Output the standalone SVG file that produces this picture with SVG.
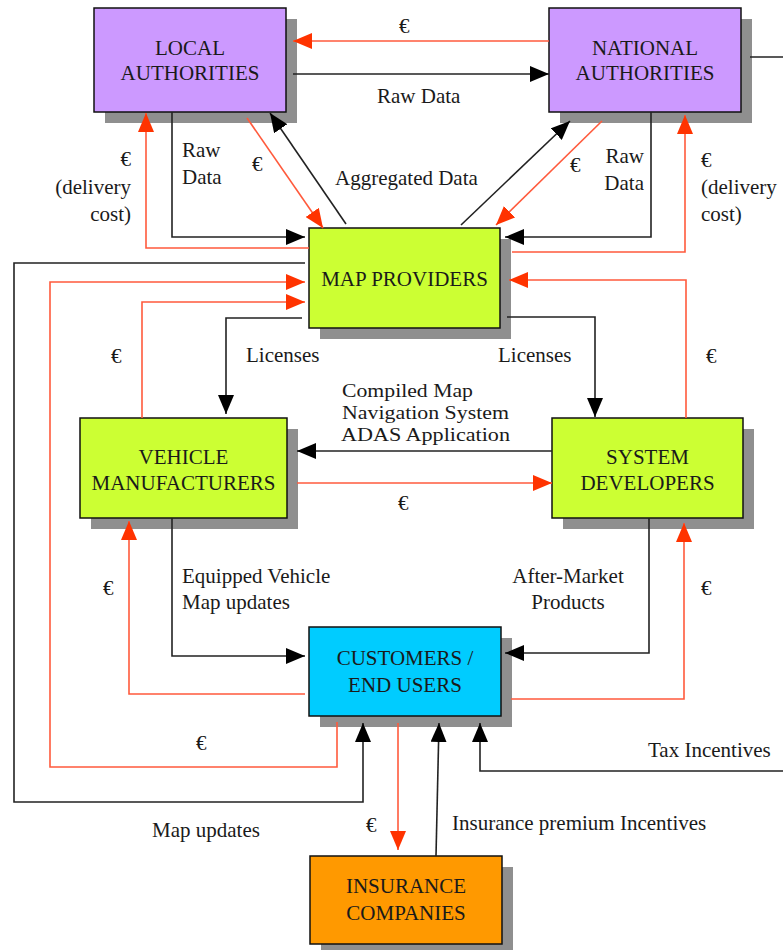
<svg xmlns="http://www.w3.org/2000/svg" width="783" height="950" viewBox="0 0 783 950">
<defs>
<style>
text{font-family:"Liberation Serif","Times New Roman",serif;font-size:21px;fill:#1a1a1a}
.c{text-anchor:middle}
.r{text-anchor:end}
.sm{font-size:19px}
.box{stroke:#111;stroke-width:1.5}
.sh{fill:#8f8f8f}
.k{fill:none;stroke:#222;stroke-width:1.6;marker-end:url(#ak)}
.kn{fill:none;stroke:#222;stroke-width:1.6}
.rd{fill:none;stroke:#ff5a3c;stroke-width:1.6;marker-end:url(#ar)}
</style>
<marker id="ak" markerUnits="userSpaceOnUse" markerWidth="20" markerHeight="16" refX="19" refY="8" orient="auto"><path d="M0,0 L19,8 L0,16 z" fill="#000"/></marker>
<marker id="ar" markerUnits="userSpaceOnUse" markerWidth="20" markerHeight="16" refX="19" refY="8" orient="auto"><path d="M0,0 L19,8 L0,16 z" fill="#ff3300"/></marker>
</defs>
<rect width="783" height="950" fill="#fff"/>

<g id="local-authorities">
<rect class="sh" x="105" y="19" width="192" height="104"/>
<rect class="box" x="94" y="8" width="192" height="104" fill="#cc99ff"/>
<text class="c" x="190" y="55">LOCAL</text>
<text class="c" x="190" y="80">AUTHORITIES</text>
</g>
<g id="national-authorities">
<rect class="sh" x="560" y="19" width="192" height="104"/>
<rect class="box" x="549" y="8" width="192" height="104" fill="#cc99ff"/>
<text class="c" x="645" y="55">NATIONAL</text>
<text class="c" x="645" y="80">AUTHORITIES</text>
</g>
<g id="map-providers">
<rect class="sh" x="320" y="239" width="191" height="100"/>
<rect class="box" x="309" y="228" width="191" height="100" fill="#ccff33"/>
<text class="c" x="404.5" y="286">MAP PROVIDERS</text>
</g>
<g id="vehicle-manufacturers">
<rect class="sh" x="91" y="429" width="207" height="100"/>
<rect class="box" x="80" y="418" width="207" height="100" fill="#ccff33"/>
<text class="c" x="183.5" y="464">VEHICLE</text>
<text class="c" x="183.5" y="490">MANUFACTURERS</text>
</g>
<g id="system-developers">
<rect class="sh" x="563" y="429" width="191" height="100"/>
<rect class="box" x="552" y="418" width="191" height="100" fill="#ccff33"/>
<text class="c" x="647.5" y="464">SYSTEM</text>
<text class="c" x="647.5" y="490">DEVELOPERS</text>
</g>
<g id="customers">
<rect class="sh" x="320" y="638" width="192" height="89"/>
<rect class="box" x="309" y="627" width="192" height="89" fill="#00ccff"/>
<text class="c" x="405" y="665">CUSTOMERS /</text>
<text class="c" x="405" y="692">END USERS</text>
</g>
<g id="insurance-companies">
<rect class="sh" x="321" y="867" width="192" height="88"/>
<rect class="box" x="310" y="856" width="192" height="88" fill="#ff9900"/>
<text class="c" x="406" y="893">INSURANCE</text>
<text class="c" x="406" y="920">COMPANIES</text>
</g>

<g id="connectors">
<path class="rd" d="M549,41 H293"/>
<path class="k" d="M293,74 H549"/>
<path class="k" d="M172,112 V237 H305"/>
<path class="rd" d="M309,248 H146 V113"/>
<path class="rd" d="M247,118 L323,228"/>
<path class="k" d="M346,224 L270,113"/>
<path class="k" d="M461,225 L570,121"/>
<path class="rd" d="M602,121 L496,225"/>
<path class="k" d="M651,112 V237 H505"/>
<path class="rd" d="M512,252 H685 V115"/>
<path class="kn" d="M750,57 H783"/>
<path class="k" d="M305,263 H14 V802 H363 V723"/>
<path class="rd" d="M337,722 V767 H50 V282 H305"/>
<path class="rd" d="M142,418 V302 H305"/>
<path class="k" d="M302,318 H226 V414"/>
<path class="k" d="M507,317 H595 V417"/>
<path class="rd" d="M686,418 V280 H509"/>
<path class="k" d="M552,451 H297"/>
<path class="rd" d="M297,483 H552"/>
<path class="k" d="M172,518 V656 H305"/>
<path class="rd" d="M305,694 H129 V521"/>
<path class="k" d="M649,518 V653 H505"/>
<path class="rd" d="M511,699 H684 V523"/>
<path class="rd" d="M398,723 V850"/>
<path class="k" d="M436,856 L439,723"/>
<path class="k" d="M783,771 H480 V723"/>
</g>

<g id="labels">
<text x="399" y="33">€</text>
<text x="377" y="103">Raw Data</text>
<text x="182" y="157">Raw</text>
<text x="182" y="184">Data</text>
<text class="r" x="131" y="166">€</text>
<text class="r" x="131" y="194">(delivery</text>
<text class="r" x="131" y="221">cost)</text>
<text x="252" y="171">€</text>
<text x="335" y="185">Aggregated Data</text>
<text x="570" y="172">€</text>
<text class="r" x="644" y="163">Raw</text>
<text class="r" x="644" y="190">Data</text>
<text x="701" y="167">€</text>
<text x="701" y="194">(delivery</text>
<text x="701" y="221">cost)</text>
<text x="111" y="363">€</text>
<text x="246" y="362">Licenses</text>
<text x="498" y="362">Licenses</text>
<text x="706" y="363">€</text>
<text class="sm" x="342" y="397" textLength="131" lengthAdjust="spacingAndGlyphs">Compiled Map</text>
<text class="sm" x="342" y="419" textLength="167" lengthAdjust="spacingAndGlyphs">Navigation System</text>
<text class="sm" x="341" y="441" textLength="169" lengthAdjust="spacingAndGlyphs">ADAS Application</text>
<text x="398" y="510">€</text>
<text x="182" y="583">Equipped Vehicle</text>
<text x="182" y="609">Map updates</text>
<text x="103" y="595">€</text>
<text class="c" x="568" y="583">After-Market</text>
<text class="c" x="568" y="609">Products</text>
<text x="701" y="595">€</text>
<text x="196" y="750">€</text>
<text x="648" y="757">Tax Incentives</text>
<text x="152" y="837">Map updates</text>
<text x="366" y="832">€</text>
<text x="452" y="830">Insurance premium Incentives</text>
</g>
</svg>
